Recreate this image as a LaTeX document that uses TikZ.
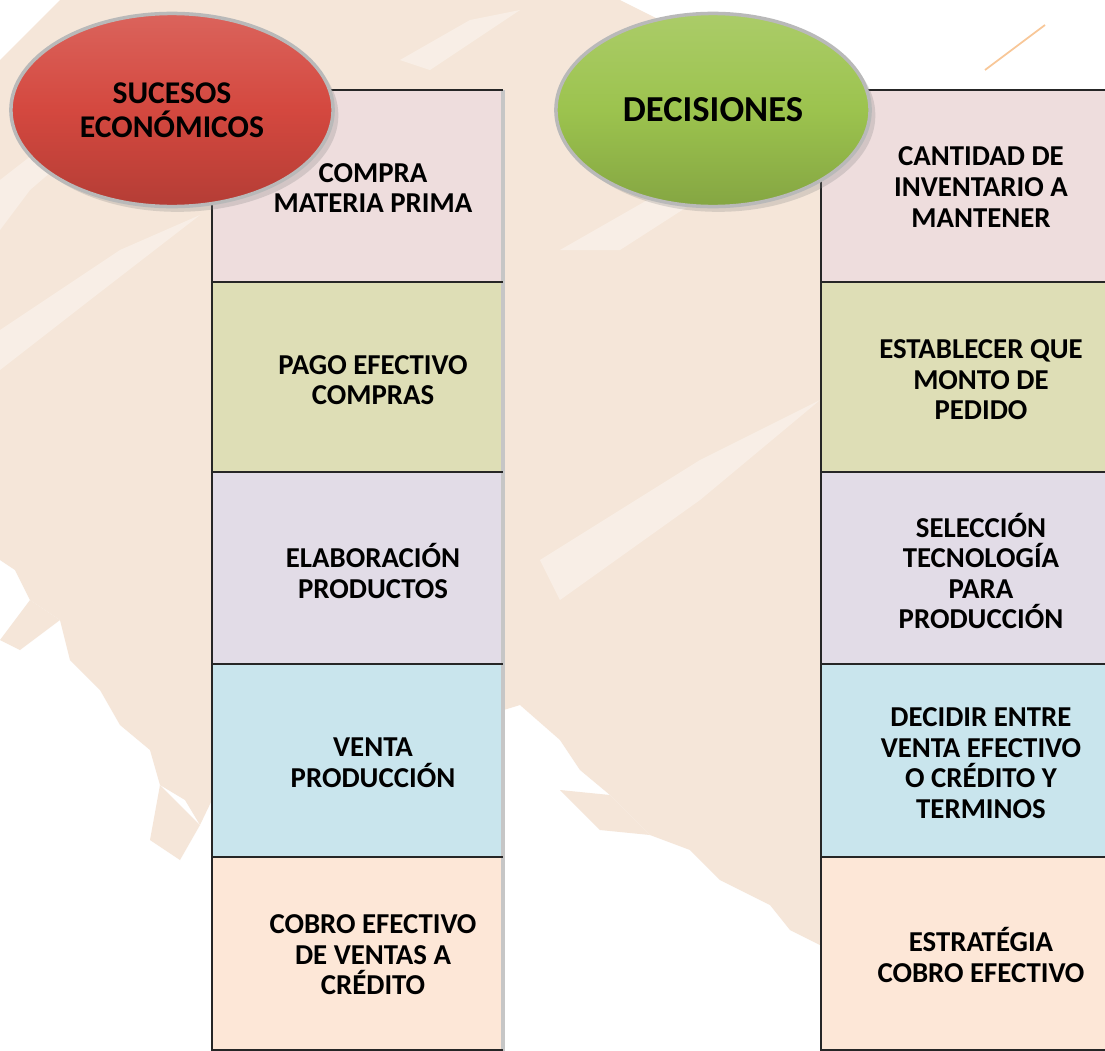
\documentclass[tikz,border=0pt]{standalone}
\usepackage{fontspec}
\setmainfont{Carlito}
\usetikzlibrary{shapes.geometric,shadows}
\definecolor{wash}{HTML}{F5E6D9}
\definecolor{pinkbox}{HTML}{EEDDDD}
\definecolor{olivebox}{HTML}{DEDEB6}
\definecolor{lilacbox}{HTML}{E2DCE7}
\definecolor{bluebox}{HTML}{C9E5ED}
\definecolor{peachbox}{HTML}{FDE7D7}
\definecolor{redoval}{HTML}{D4483F}
\definecolor{greenoval}{HTML}{9CC34E}
\tikzset{
  oval/.style={ellipse, draw=gray!55, line width=1pt, minimum width=3.22cm, minimum height=1.93cm,
    drop shadow={opacity=0.25, shadow xshift=1.5pt, shadow yshift=-1.5pt}},
  boxtext/.style={align=center, font=\bfseries\fontsize{8.2}{8.7}\selectfont},
  divider/.style={line width=0.6pt, black!85},
  edge/.style={line width=0.9pt, gray!45},
  streak/.style={white, opacity=0.35}
}
\begin{document}
\begin{tikzpicture}[x=0.01cm, y=-0.01cm, line join=round]
  \useasboundingbox (0,0) rectangle (1105,1051);
  \fill[white] (0,0) rectangle (1105,1051);
  % brush wash in the back
  \fill[wash] (0,60) -- (40,20) -- (60,0) -- (620,0) -- (660,20) -- (830,90) -- (830,950)
    -- (790,930) -- (770,905) -- (720,880) -- (690,850) -- (650,835) -- (610,795) -- (580,770)
    -- (560,740) -- (520,705) -- (212,800) -- (200,825) -- (185,800) -- (160,785) -- (150,750)
    -- (120,725) -- (100,690) -- (70,660) -- (60,620) -- (30,600) -- (15,570) -- (0,560) -- cycle;
  % loose bristle ends
  \fill[wash] (650,835) -- (600,830) -- (560,790) -- (610,795) -- cycle;
  \fill[wash] (200,825) -- (180,860) -- (150,840) -- (160,785) -- cycle;
  \fill[wash] (60,620) -- (20,650) -- (0,640) -- (30,600) -- cycle;
  % lighter streaks
  \fill[streak] (0,180) -- (90,110) -- (140,95) -- (30,190) -- (0,230) -- cycle;
  \fill[streak] (0,330) -- (120,250) -- (200,215) -- (90,300) -- (0,370) -- cycle;
  \fill[streak] (540,560) -- (700,460) -- (820,400) -- (700,500) -- (560,600) -- cycle;
  \fill[streak] (560,250) -- (700,170) -- (760,160) -- (620,250) -- cycle;
  \fill[streak] (400,60) -- (470,20) -- (520,10) -- (430,70) -- cycle;
  \draw[wash!70!orange, line width=0.5pt] (985,70) -- (1045,25);
  % boxes of both columns
  \foreach \c/\t/\b in {pinkbox/90/282, olivebox/282/472, lilacbox/472/664, bluebox/664/857, peachbox/857/1051}{
    \fill[\c] (212,\t) rectangle (503,\b);
    \fill[\c] (821,\t) rectangle (1112,\b);
    \draw[edge] (503,\t) -- (503,\b);
    \draw[divider] (212,\t) -- (503,\t);
    \draw[divider] (821,\t) -- (1112,\t);
  }
  \draw[divider] (212,90) -- (212,1051);
  \draw[divider] (821,90) -- (821,1051);
  \draw[divider] (212,1050) -- (503,1050);
  \draw[divider] (821,1050) -- (1112,1050);
  % texts
  \node[boxtext] (s1) at (373,188) {COMPRA\\MATERIA PRIMA};
  \node[boxtext] (s2) at (373,380) {PAGO EFECTIVO\\COMPRAS};
  \node[boxtext] (s3) at (373,571) {ELABORACIÓN\\PRODUCTOS};
  \node[boxtext] (s4) at (373,763) {VENTA\\PRODUCCIÓN};
  \node[boxtext] (s5) at (373,955) {COBRO EFECTIVO\\DE VENTAS A\\CRÉDITO};
  \node[boxtext] (d1) at (981,187) {CANTIDAD DE\\INVENTARIO A\\MANTENER};
  \node[boxtext] (d2) at (981,380) {ESTABLECER QUE\\MONTO DE\\PEDIDO};
  \node[boxtext] (d3) at (981,571) {SELECCIÓN\\TECNOLOGÍA\\PARA\\PRODUCCIÓN};
  \node[boxtext] (d4) at (981,763) {DECIDIR ENTRE\\VENTA EFECTIVO\\O CRÉDITO Y\\TERMINOS};
  \node[boxtext] (d5) at (981,955) {ESTRATÉGIA\\COBRO EFECTIVO};
  % ovals
  \node[oval, top color=redoval!85!white, bottom color=redoval!85!black, middle color=redoval,
    font=\bfseries\fontsize{9}{9.7}\selectfont, align=center] (suc) at (172,110) {SUCESOS\\ECONÓMICOS};
  \node[oval, minimum width=3.14cm, top color=greenoval!85!white, bottom color=greenoval!85!black, middle color=greenoval,
    font=\bfseries\fontsize{10.4}{11}\selectfont] (dec) at (713,110) {DECISIONES};
\end{tikzpicture}
\end{document}
